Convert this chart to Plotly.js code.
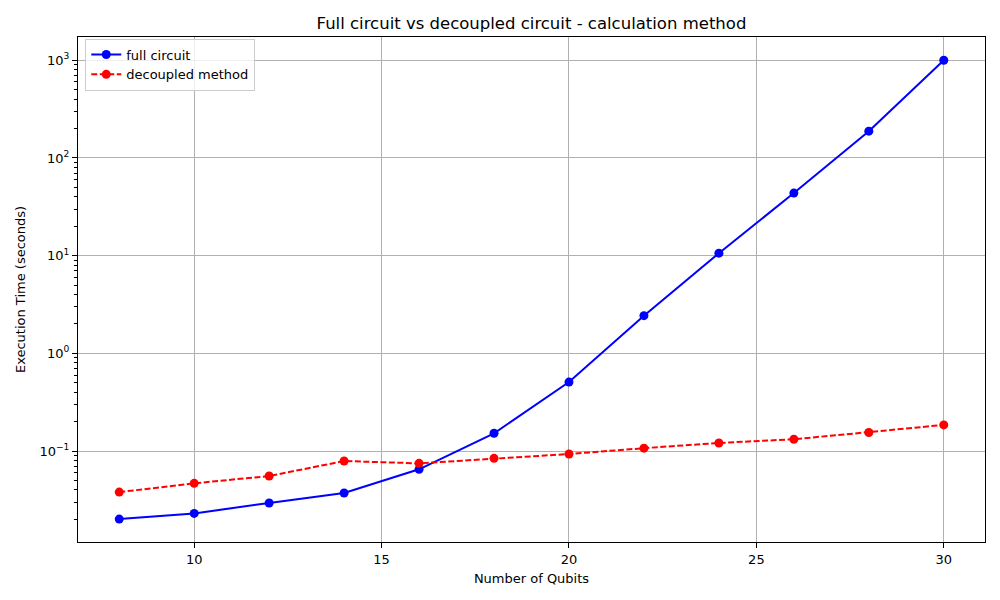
<!DOCTYPE html>
<html>
<head>
<meta charset="utf-8">
<script src="https://cdn.plot.ly/plotly-3.0.1.min.js"></script>
<style>body{margin:0;padding:0;background:#fff}#chart{width:1000px;height:600px}</style>
</head>
<body>
<div id="chart"></div>
<script>
const qubits = [8, 10, 12, 14, 16, 18, 20, 22, 24, 26, 28, 30];
const fullCircuit = [0.0201, 0.0230, 0.0294, 0.0372, 0.065, 0.152, 0.508, 2.43, 10.6, 43.7, 188, 1000];
const decoupled = [0.038, 0.0467, 0.0555, 0.079, 0.0748, 0.0842, 0.0932, 0.107, 0.121, 0.132, 0.155, 0.185];
const yTickVals = [0.1, 1, 10, 100, 1000];
const yTickText = ['10<sup>−1</sup>', '10<sup>0</sup>', '10<sup>1</sup>', '10<sup>2</sup>', '10<sup>3</sup>'];
const xTickVals = [10, 15, 20, 25, 30];

const font = 'DejaVu Sans, sans-serif';
const traces = [
  {x: qubits, y: fullCircuit, name: 'full circuit', type: 'scatter', mode: 'lines+markers',
   line: {color: '#0000ff', width: 2}, marker: {color: '#0000ff', size: 9}},
  {x: qubits, y: decoupled, name: 'decoupled method', type: 'scatter', mode: 'lines+markers',
   line: {color: '#ff0000', width: 2, dash: '6px,2.5px'}, marker: {color: '#ff0000', size: 9}}
];
const layout = {
  width: 1000, height: 600,
  margin: {l: 77.5, r: 15, t: 37, b: 58},
  paper_bgcolor: '#fff', plot_bgcolor: '#fff',
  font: {family: font, size: 13, color: '#000'},
  title: {text: 'Full circuit vs decoupled circuit - calculation method', font: {family: font, size: 16.5, color: '#000'}, x: 0.5, xref: 'paper', y: 0.962, yanchor: 'middle'},
  showlegend: true,
  legend: {x: 0.008, y: 0.997, xanchor: 'left', yanchor: 'top', bgcolor: 'rgba(255,255,255,0.8)', bordercolor: '#cccccc', borderwidth: 1, font: {family: font, size: 13}, tracegroupgap: 0},
  xaxis: {
    range: [6.9, 31.1], tickmode: 'array', tickvals: xTickVals,
    title: {text: 'Number of Qubits', font: {family: font, size: 13}, standoff: 8},
    showgrid: true, gridcolor: '#b0b0b0', gridwidth: 1,
    showline: true, linecolor: '#000', linewidth: 1, mirror: true,
    ticks: 'outside', ticklen: 5, tickcolor: '#000', zeroline: false,
    tickfont: {family: font, size: 13}
  },
  yaxis: {
    type: 'log', range: [-1.931, 3.238], tickmode: 'array', tickvals: yTickVals, ticktext: yTickText,
    title: {text: 'Execution Time (seconds)', font: {family: font, size: 13}, standoff: 10},
    showgrid: true, gridcolor: '#b0b0b0', gridwidth: 1,
    showline: true, linecolor: '#000', linewidth: 1, mirror: true,
    ticks: 'outside', ticklen: 5, tickcolor: '#000', zeroline: false,
    tickfont: {family: font, size: 13},
    minor: {ticks: 'outside', ticklen: 3, tickcolor: '#000', dtick: 'D1', showgrid: false}
  }
};
Plotly.newPlot('chart', traces, layout, {displayModeBar: false, staticPlot: true});
</script>
</body>
</html>
